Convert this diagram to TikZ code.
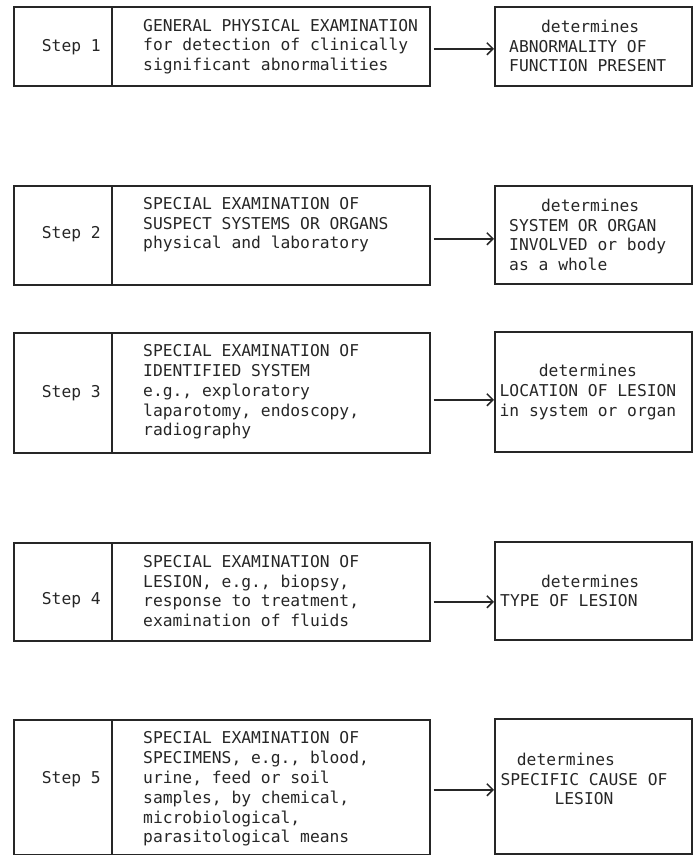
\documentclass[tikz,border=0pt]{standalone}
\usepackage{fontspec}
\newfontfamily\twfont{DejaVu Sans Mono}
\usetikzlibrary{arrows.meta}
\begin{document}
\begin{tikzpicture}[x=1pt,y=1pt,
  boxframe/.style={draw=black!85, line width=1.5pt, inner sep=0pt, anchor=north west},
  txt/.style={font=\twfont\fontsize{16.3pt}{19.8pt}\selectfont, inner sep=0pt, text=black!85},
  midtxt/.style={txt, align=left, anchor=west},
  steptxt/.style={txt, anchor=east},
  restxt/.style={txt, align=left, anchor=west},
  rescen/.style={txt, align=center},
  link/.style={draw=black!85, line width=1.5pt, -{Straight Barb[length=6pt,width=12pt,line width=1.5pt]}, shorten <=3pt}]
\useasboundingbox (0,0) rectangle (699,-855);

% ---------- Step 1 ----------
\node[boxframe, minimum width=98pt, minimum height=79pt] (s1) at (13,-6) {};
\node[boxframe, minimum width=318pt, minimum height=79pt] (m1) at (111,-6) {};
\node[boxframe, minimum width=197pt, minimum height=79pt] (r1) at (494,-6) {};
\node[steptxt] (s1t) at (101,-47) {Step 1};
\node[midtxt] (m1t) at (143,-46.5) {GENERAL PHYSICAL EXAMINATION\\for detection of clinically\\significant abnormalities};
\node[restxt] (r1t) at (509,-46) {\makebox[162pt]{determines}\\ABNORMALITY OF\\FUNCTION PRESENT};
\draw[link] ([yshift=-2.5pt]m1.east) -- ([yshift=-2.5pt]m1.east -| r1.west);

% ---------- Step 2 ----------
\node[boxframe, minimum width=98pt, minimum height=99pt] (s2) at (13,-185) {};
\node[boxframe, minimum width=318pt, minimum height=99pt] (m2) at (111,-185) {};
\node[boxframe, minimum width=197pt, minimum height=98pt] (r2) at (494,-185) {};
\node[steptxt] (s2t) at (101,-234) {Step 2};
\node[midtxt] (m2t) at (143,-224.7) {SPECIAL EXAMINATION OF\\SUSPECT SYSTEMS OR ORGANS\\physical and laboratory};
\node[restxt] (r2t) at (509,-235) {\makebox[162pt]{determines}\\SYSTEM OR ORGAN\\INVOLVED or body\\as a whole};
\draw[link] ([yshift=-3.5pt]m2.east) -- ([yshift=-3.5pt]m2.east -| r2.west);

% ---------- Step 3 ----------
\node[boxframe, minimum width=98pt, minimum height=120pt] (s3) at (13,-332) {};
\node[boxframe, minimum width=318pt, minimum height=120pt] (m3) at (111,-332) {};
\node[boxframe, minimum width=197pt, minimum height=120pt] (r3) at (494,-331) {};
\node[steptxt] (s3t) at (101,-393) {Step 3};
\node[midtxt] (m3t) at (143,-392) {SPECIAL EXAMINATION OF\\IDENTIFIED SYSTEM\\e.g., exploratory\\laparotomy, endoscopy,\\radiography};
\node[rescen] (r3t) at (588,-392) {determines\\LOCATION OF LESION\\in system or organ};
\draw[link] ([yshift=-7pt]m3.east) -- ([yshift=-7pt]m3.east -| r3.west);

% ---------- Step 4 ----------
\node[boxframe, minimum width=98pt, minimum height=98pt] (s4) at (13,-542) {};
\node[boxframe, minimum width=318pt, minimum height=98pt] (m4) at (111,-542) {};
\node[boxframe, minimum width=197pt, minimum height=98pt] (r4) at (494,-541) {};
\node[steptxt] (s4t) at (101,-600) {Step 4};
\node[midtxt] (m4t) at (143,-591) {SPECIAL EXAMINATION OF\\LESION, e.g., biopsy,\\response to treatment,\\examination of fluids};
\node[restxt] (r4t) at (500,-591) {\makebox[180pt]{determines}\\TYPE OF LESION};
\draw[link] ([yshift=-10pt]m4.east) -- ([yshift=-10pt]m4.east -| r4.west);

% ---------- Step 5 ----------
\node[boxframe, minimum width=98pt, minimum height=135pt] (s5) at (13,-719) {};
\node[boxframe, minimum width=318pt, minimum height=135pt] (m5) at (111,-719) {};
\node[boxframe, minimum width=197pt, minimum height=135pt] (r5) at (494,-718) {};
\node[steptxt] (s5t) at (101,-779) {Step 5};
\node[midtxt] (m5t) at (143,-789) {SPECIAL EXAMINATION OF\\SPECIMENS, e.g., blood,\\urine, feed or soil\\samples, by chemical,\\microbiological,\\parasitological means};
\node[rescen] (r5t) at (584,-779) {determines\hspace*{36pt}\\SPECIFIC CAUSE OF\\LESION};
\draw[link] ([yshift=-2.5pt]m5.east) -- ([yshift=-2.5pt]m5.east -| r5.west);
\end{tikzpicture}
\end{document}
